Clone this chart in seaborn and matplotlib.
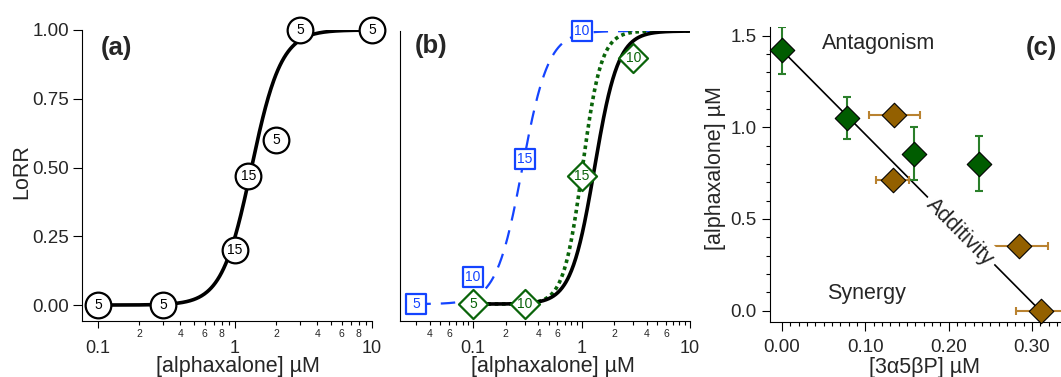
import numpy as np
import matplotlib
matplotlib.use("Agg")
import matplotlib.pyplot as plt
import seaborn as sns

# ---------------- data ----------------
# panel (a): alphaxalone alone
a_x = [0.1, 0.3, 1.0, 1.25, 2.0, 3.0, 10.0]
a_y = [0.0, 0.0, 0.20, 0.47, 0.60, 1.00, 1.00]
a_n = ["5", "5", "15", "15", "5", "5", "5"]

# fitted Hill parameters
alpha_ec50, alpha_hill = 1.32, 4.0      # black (alphaxalone alone)
green_ec50, green_hill = 1.02, 5.0      # green dotted
blue_ec50, blue_hill = 0.285, 3.6       # blue dashed

# panel (b)
b_blue_x = [0.03, 0.1, 0.3, 1.0]
b_blue_y = [0.0, 0.10, 0.53, 1.00]
b_blue_n = ["5", "10", "15", "10"]
b_green_x = [0.1, 0.3, 1.0, 3.0]
b_green_y = [0.0, 0.0, 0.47, 0.90]
b_green_n = ["5", "10", "15", "10"]

# panel (c): isobologram
c_green_x = [0.0, 0.078, 0.158, 0.236]
c_green_y = [1.42, 1.05, 0.855, 0.80]
c_green_yerr = [0.13, 0.115, 0.145, 0.15]
c_brown_x = [0.135, 0.133, 0.284, 0.311]
c_brown_y = [1.065, 0.71, 0.355, 0.0]
c_brown_xerr = [0.031, 0.02, 0.035, 0.03]
add_x = [0.0, 0.31]
add_y = [1.42, 0.0]

# ---------------- style ----------------
sns.set_theme(style="ticks")
plt.rcParams["font.family"] = ["Liberation Sans", "DejaVu Sans"]
plt.rcParams["axes.linewidth"] = 0.8

BLUE = "#1444ff"
GREEN = "#0a640a"
CGREEN = "#005c00"
CGREEN_ERR = "#2a7f2a"
BROWN = "#936000"
BROWN_ERR = "#b98230"

W, H = 1061, 377
fig = plt.figure(figsize=(W / 100, H / 100), dpi=100)


def fa(l, r, b, t):
    return fig.add_axes([l / W, 1 - b / H, (r - l) / W, (b - t) / H])


axA = fa(82, 372, 321, 30)
axB = fa(400, 690, 321, 31)
axC = fa(770, 1061, 322, 26.7)


def hill(x, ec50, n):
    x = np.asarray(x)
    return x ** n / (x ** n + ec50 ** n)


def log_axis(ax, xmin, minors, minor_labels):
    ax.set_xscale("log")
    ax.set_xlim(xmin, 10)
    ax.set_ylim(-0.058, 1.0)
    ax.set_xticks([0.1, 1, 10])
    ax.set_xticklabels(["0.1", "1", "10"])
    ax.set_xticks(minors, minor=True)
    ax.set_xticklabels(minor_labels, minor=True)
    ax.tick_params(axis="x", which="major", length=5, width=0.8, pad=8.5,
                   labelsize=13, direction="out", color="black")
    ax.tick_params(axis="x", which="minor", length=3, width=0.8, pad=2.5,
                   labelsize=7.5, direction="out", color="black")
    for s in ("top", "right"):
        ax.spines[s].set_visible(False)
    for s in ("left", "bottom"):
        ax.spines[s].set_color("black")
    ax.set_facecolor("white")
    ax.grid(False)


def labelled_markers(ax, xs, ys, labels, marker, size, edge, tcolor):
    sns.scatterplot(x=xs, y=ys, ax=ax, marker=marker, s=size ** 2,
                    color="white", edgecolor=edge, linewidth=1.6,
                    zorder=5, clip_on=False, legend=False)
    for x, y, t in zip(xs, ys, labels):
        ax.text(x, y, t, ha="center", va="center", fontsize=10,
                color=tcolor, zorder=6, clip_on=False)


# ---------------- panel (a) ----------------
minA = [0.2, 0.3, 0.4, 0.5, 0.6, 0.7, 0.8, 0.9, 2, 3, 4, 5, 6, 7, 8, 9]
labA = ["2", "", "4", "", "6", "", "8", "", "2", "", "4", "", "6", "", "8", ""]
log_axis(axA, 0.0764, minA, labA)
xs = np.logspace(-1, 1, 400)
sns.lineplot(x=xs, y=hill(xs, alpha_ec50, alpha_hill), ax=axA, color="black",
             lw=2.6, zorder=3, legend=False)
labelled_markers(axA, a_x, a_y, a_n, "o", 18.5, "black", "black")
axA.set_yticks([0, 0.25, 0.5, 0.75, 1.0])
axA.set_yticklabels(["0.00", "0.25", "0.50", "0.75", "1.00"])
axA.tick_params(axis="y", length=6.5, width=0.8, pad=3, labelsize=13.5,
                direction="out", color="black")
axA.set_ylabel("LoRR", fontsize=15.5)
axA.yaxis.set_label_coords(-0.171, 0.514)
axA.set_xlabel("[alphaxalone] µM", fontsize=15.5)
axA.xaxis.set_label_coords(0.536, -0.12)
axA.text(0.118, 0.938, "(a)", transform=axA.transAxes, ha="center",
         va="center", fontsize=18.5, fontweight="bold")

# ---------------- panel (b) ----------------
minB = [0.03, 0.04, 0.05, 0.06, 0.07, 0.08, 0.09,
        0.2, 0.3, 0.4, 0.5, 0.6, 0.7, 0.8, 0.9,
        2, 3, 4, 5, 6, 7, 8, 9]
labB = ["", "4", "", "6", "", "", "",
        "2", "", "4", "", "6", "", "", "",
        "2", "", "4", "", "6", "", "", ""]
log_axis(axB, 0.0212, minB, labB)
axB.set_ylim(-0.062, 1.0)
axB.set_yticks([])
xb = np.logspace(np.log10(0.03), 1, 400)
sns.lineplot(x=xb, y=hill(xb, blue_ec50, blue_hill), ax=axB, color=BLUE,
             lw=1.6, dashes=False, zorder=2, legend=False)
axB.lines[-1].set_linestyle((0, (6.5, 4.5)))
xg = np.logspace(-1, 1, 400)
sns.lineplot(x=xg, y=hill(xg, green_ec50, green_hill), ax=axB, color=GREEN,
             lw=2.6, zorder=2, legend=False)
axB.lines[-1].set_linestyle((0, (1.0, 1.0)))
sns.lineplot(x=xg, y=hill(xg, alpha_ec50, alpha_hill), ax=axB, color="black",
             lw=2.6, zorder=3, legend=False)
labelled_markers(axB, b_blue_x, b_blue_y, b_blue_n, "s", 15, BLUE, BLUE)
labelled_markers(axB, b_green_x, b_green_y, b_green_n, "D", 14.8, GREEN, GREEN)
axB.set_xlabel("[alphaxalone] µM", fontsize=15.5)
axB.xaxis.set_label_coords(0.529, -0.12)
axB.text(0.106, 0.949, "(b)", transform=axB.transAxes, ha="center",
         va="center", fontsize=18.5, fontweight="bold")

# ---------------- panel (c) ----------------
axC.set_facecolor("white")
axC.grid(False)
axC.set_xlim(-0.0144, 0.335)
axC.set_ylim(-0.062, 1.549)
for s in ("top", "right"):
    axC.spines[s].set_visible(False)
for s in ("left", "bottom"):
    axC.spines[s].set_color("black")
sns.lineplot(x=add_x, y=add_y, ax=axC, color="black", lw=1.2, zorder=2,
             legend=False)
axC.errorbar(c_green_x, c_green_y, yerr=c_green_yerr, fmt="none",
             ecolor=CGREEN_ERR, elinewidth=1.5, capsize=3, capthick=1.5,
             zorder=3)
axC.errorbar(c_brown_x, c_brown_y, xerr=c_brown_xerr, fmt="none",
             ecolor=BROWN_ERR, elinewidth=1.5, capsize=3, capthick=1.5,
             zorder=3)
sns.scatterplot(x=c_green_x, y=c_green_y, ax=axC, marker="D", s=12.5 ** 2,
                color=CGREEN, edgecolor="black", linewidth=0.8, zorder=5,
                clip_on=False, legend=False)
sns.scatterplot(x=c_brown_x, y=c_brown_y, ax=axC, marker="D", s=12.5 ** 2,
                color=BROWN, edgecolor="black", linewidth=0.8, zorder=5,
                clip_on=False, legend=False)
ang = np.degrees(np.arctan2(add_y[1] - add_y[0], add_x[1] - add_x[0]))
axC.text(0.214, 0.43, "Additivity", rotation=ang, transform_rotates_text=True,
         rotation_mode="anchor", ha="center", va="center", fontsize=15.5,
         zorder=4, bbox=dict(facecolor="white", edgecolor="none", pad=3))
axC.text(0.1155, 1.455, "Antagonism", ha="center", va="center", fontsize=15.5)
axC.text(0.102, 0.095, "Synergy", ha="center", va="center", fontsize=15.5)
axC.text(0.931, 0.927, "(c)", transform=axC.transAxes, ha="center",
         va="center", fontsize=18.5, fontweight="bold")

axC.set_xticks([0.0, 0.1, 0.2, 0.3])
axC.set_xticklabels(["0.00", "0.10", "0.20", "0.30"])
axC.set_xticks(np.arange(1, 34) / 100.0, minor=True)
axC.set_yticks([0.0, 0.5, 1.0, 1.5])
axC.set_yticklabels(["0.0", "0.5", "1.0", "1.5"])
axC.set_yticks(np.arange(0, 16) / 10.0, minor=True)
axC.tick_params(axis="x", which="major", length=6.5, width=0.8, pad=5.5,
                labelsize=13.5, direction="out", color="black")
axC.tick_params(axis="x", which="minor", length=3, width=0.8,
                direction="out", color="black")
axC.tick_params(axis="y", which="major", length=6, width=0.8, pad=3.5,
                labelsize=13.5, direction="out", color="black")
axC.tick_params(axis="y", which="minor", length=3, width=0.8,
                direction="out", color="black")
axC.set_xlabel("[3α5βP] µM", fontsize=15.5)
axC.xaxis.set_label_coords(0.53, -0.12)
axC.set_ylabel("[alphaxalone] µM", fontsize=15.5)
axC.yaxis.set_label_coords(-0.151, 0.52)

fig.savefig("out.png", dpi=100, facecolor="white")
